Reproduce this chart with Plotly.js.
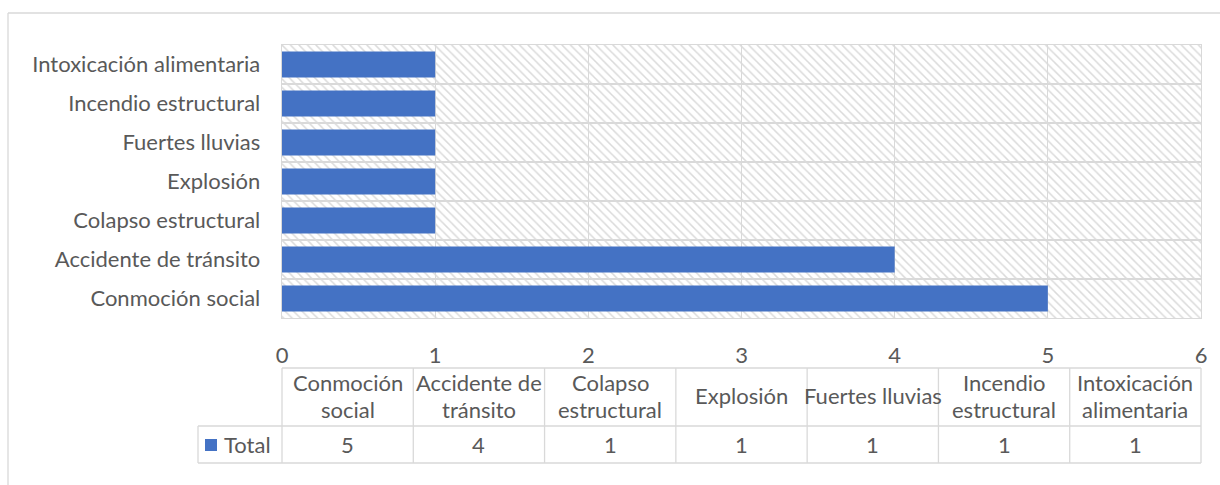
<!DOCTYPE html>
<html>
<head>
<meta charset="utf-8">
<script src="https://cdn.plot.ly/plotly-3.0.1.min.js"></script>
<style>
html,body{margin:0;padding:0;background:#fff;}
#chart{width:1220px;height:485px;}
</style>
</head>
<body>
<div id="chart"></div>
<script>
// ---- Data ----
const categories = ["Conmoción social", "Accidente de tránsito", "Colapso estructural", "Explosión", "Fuertes lluvias", "Incendio estructural", "Intoxicación alimentaria"];
const tableHeaders = [["Conmoción", "social"], ["Accidente de", "tránsito"], ["Colapso", "estructural"], ["Explosión"], ["Fuertes lluvias"], ["Incendio", "estructural"], ["Intoxicación", "alimentaria"]];
const totals = [5, 4, 1, 1, 1, 1, 1];
const seriesName = "Total";
const xTicks = [0, 1, 2, 3, 4, 5, 6];
const xMax = 6;

// ---- Layout geometry (pixels) ----
const W = 1220, H = 485;
const L = 282, R = 1201, T = 45, B = 318;
const px = x => (x - L) / (R - L);
const py = y => (B - y) / (B - T);

const FONT = "Lato, 'Open Sans', sans-serif";
const TXT = "#595959";
const GRID = "#d9d9d9";
const BLUE = "#4472C4";
const FS = 22;

const bgTrace = {
  type: "bar", orientation: "h",
  y: categories, x: categories.map(() => xMax),
  width: 1,
  marker: {
    color: "rgba(0,0,0,0)",
    line: {width: 0},
    pattern: {shape: "\\", fgcolor: "#dadada", bgcolor: "rgba(0,0,0,0)", size: 6, solidity: 0.25}
  },
  hoverinfo: "skip", showlegend: false
};
const dataTrace = {
  type: "bar", orientation: "h",
  y: categories, x: totals, name: seriesName,
  marker: {color: BLUE, line: {width: 0}},
  showlegend: false
};

const shapes = [];
const annotations = [];
const line = (x0, y0, x1, y1) => shapes.push({type: "line", xref: "paper", yref: "paper",
  x0: px(x0), y0: py(y0), x1: px(x1), y1: py(y1), line: {color: GRID, width: 1.3}, layer: "above"});
const label = (x, y, text, anchor) => annotations.push({xref: "paper", yref: "paper", x: x, y: py(y), text: text,
  showarrow: false, xanchor: anchor || "center", yanchor: "middle", font: {family: FONT, size: FS, color: TXT}});

// outer chart frame
line(8, 13, 1225, 13);
line(8, 13, 8, 495);

// data table
const tTop = 368, tMid = 426, tBot = 463, tLeft = 198;
const n = categories.length;
line(L, tTop, R, tTop);
line(tLeft, tMid, R, tMid);
line(tLeft, tBot, R, tBot);
line(tLeft, tMid, tLeft, tBot);
for (let i = 0; i <= n; i++) {
  const x = L + i * (R - L) / n;
  line(x, tTop, x, tBot);
}
const hMid = (tTop + tMid) / 2 - 1.5, lineGap = 27;
for (let i = 0; i < n; i++) {
  const cx = (i + 0.5) / n;
  const lines = tableHeaders[i];
  lines.forEach((t, k) => label(cx, hMid + (k - (lines.length - 1) / 2) * lineGap, t));
  label(cx, (tMid + tBot) / 2, String(totals[i]));
}
// legend key + series name
shapes.push({type: "rect", xref: "paper", yref: "paper", x0: px(205), x1: px(217), y0: py(451), y1: py(439),
  fillcolor: BLUE, line: {width: 0}});
label(px(222), (tMid + tBot) / 2, seriesName, "left");

const layout = {
  width: W, height: H,
  margin: {l: L, r: W - R, t: T, b: H - B, pad: 0},
  paper_bgcolor: "#fff", plot_bgcolor: "#fff",
  barmode: "overlay", bargap: 0.33,
  showlegend: false,
  font: {family: FONT, size: FS, color: TXT},
  xaxis: {
    range: [0, xMax], tickvals: xTicks, ticktext: xTicks.map(String),
    showgrid: true, gridcolor: GRID, gridwidth: 1.3,
    zeroline: false, showline: true, mirror: true, linecolor: GRID, linewidth: 1.3,
    ticks: "", ticklabelstandoff: 17,
    tickfont: {family: FONT, size: FS, color: TXT}, fixedrange: true
  },
  yaxis: {
    type: "category", categoryorder: "array", categoryarray: categories,
    tickson: "boundaries", showgrid: true, gridcolor: GRID, gridwidth: 1.3,
    zeroline: false, showline: true, mirror: true, linecolor: GRID, linewidth: 1.3,
    ticks: "", ticklabelstandoff: 16,
    tickfont: {family: FONT, size: FS, color: TXT}, fixedrange: true
  },
  shapes: shapes,
  annotations: annotations
};

Plotly.newPlot("chart", [bgTrace, dataTrace], layout, {staticPlot: true, displayModeBar: false});
</script>
</body>
</html>
